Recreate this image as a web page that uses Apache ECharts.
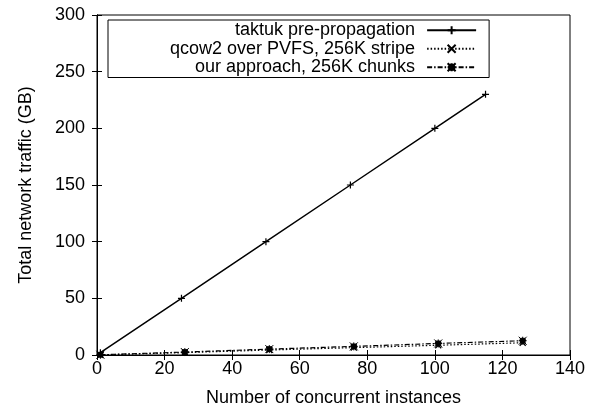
<!DOCTYPE html>
<html>
<head>
<meta charset="utf-8">
<script src="https://cdn.jsdelivr.net/npm/echarts@6/dist/echarts.min.js"></script>
<style>
  html, body { margin: 0; padding: 0; background: #fff; }
  #chart { width: 600px; height: 414px; }
</style>
</head>
<body>
<div id="chart"></div>
<script>
const SERIES_NAMES = [
    'taktuk pre-propagation',
    'qcow2 over PVFS, 256K stripe',
    'our approach, 256K chunks'
]

// x = concurrent instances, y = traffic in GB
const taktukX = [1, 25, 50, 75, 100, 115]
const taktukY = [2, 50, 100, 150, 200, 230]

const qcowX = [1, 26, 51, 76, 101, 126]
const qcowY = [0.1, 2.1, 4.4, 6.5, 8.6, 10.8]

const oursX = [1, 26, 51, 76, 101, 126]
const oursY = [0.2, 2.6, 5.2, 7.6, 10.2, 12.6]

const FONT = '"Liberation Sans", Arial, Helvetica, sans-serif'

function pairs(xs, ys) {
    let out = []
    for (let i = 0; i < xs.length; i++) {
        out.push([xs[i], ys[i]])
    }
    return out
}

const PLUS = 'path://M0,5L10,5M5,0L5,10'
const CROSS = 'path://M1,1L9,9M9,1L1,9'
const STAR = 'path://M2,2H8V8H2Z M0,0L10,10M10,0L0,10M0,5H10M5,0V10'

function baseAxis(extra) {
    return Object.assign({
        type: 'value',
        axisLine: { show: true, lineStyle: { color: '#000', width: 1 } },
        axisTick: { show: true, inside: true, length: 5, lineStyle: { color: '#000' } },
        splitLine: { show: false },
        axisLabel: { color: '#000', fontSize: 18, fontFamily: FONT }
    }, extra)
}

let option = {
    backgroundColor: '#fff',
    animation: false,
    textStyle: { fontFamily: FONT },
    grid: {
        left: 97, right: 30, top: 15, bottom: 59,
        show: true, borderColor: '#000', borderWidth: 1, backgroundColor: 'transparent'
    },
    legend: {
        orient: 'vertical',
        align: 'right',
        left: 108,
        top: 20,
        data: SERIES_NAMES,
        itemWidth: 49,
        itemHeight: 10,
        itemGap: 0,
        padding: [1, 12, 1, 62],
        borderColor: '#000',
        borderWidth: 1,
        textStyle: { color: '#000', fontSize: 18, fontFamily: FONT, lineHeight: 18.5, padding: [0, 7, 0, 0] }
    },
    xAxis: [
        baseAxis({
            min: 0, max: 140, interval: 20,
            name: 'Number of concurrent instances',
            nameLocation: 'middle',
            nameGap: 34,
            nameTextStyle: { color: '#000', fontSize: 18, fontFamily: FONT },
            axisLabel: { color: '#000', fontSize: 18, fontFamily: FONT, margin: 5 }
        }),
        baseAxis({
            min: 0, max: 140, interval: 20, position: 'top',
            axisLabel: { show: false }
        })
    ],
    yAxis: [
        baseAxis({
            min: 0, max: 300, interval: 50,
            name: 'Total network traffic (GB)',
            nameLocation: 'middle',
            nameGap: 62,
            nameTextStyle: { color: '#000', fontSize: 18, fontFamily: FONT },
            axisLabel: { color: '#000', fontSize: 18, fontFamily: FONT, margin: 12 }
        }),
        baseAxis({
            min: 0, max: 300, interval: 50, position: 'right',
            axisLabel: { show: false }
        })
    ],
    series: [
        {
            name: SERIES_NAMES[0],
            type: 'line',
            data: pairs(taktukX, taktukY),
            symbol: PLUS,
            symbolSize: 7,
            showSymbol: true,
            lineStyle: { color: '#000', width: 1.5, type: 'solid' },
            itemStyle: { color: '#000', borderColor: '#000', borderWidth: 1.2 }
        },
        {
            name: SERIES_NAMES[1],
            type: 'line',
            data: pairs(qcowX, qcowY),
            symbol: CROSS,
            symbolSize: 6,
            lineStyle: { color: '#000', width: 1.2, type: [1.5, 2] },
            itemStyle: { color: '#000', borderColor: '#000', borderWidth: 1.3 }
        },
        {
            name: SERIES_NAMES[2],
            type: 'line',
            data: pairs(oursX, oursY),
            symbol: STAR,
            symbolSize: 8,
            lineStyle: { color: '#000', width: 1.2, type: [5, 2, 1.5, 2] },
            itemStyle: { color: '#000', borderColor: '#000', borderWidth: 1 }
        }
    ]
};

let chart = echarts.init(document.getElementById('chart'), null, { renderer: 'canvas' });
chart.setOption(option);
</script>
</body>
</html>
